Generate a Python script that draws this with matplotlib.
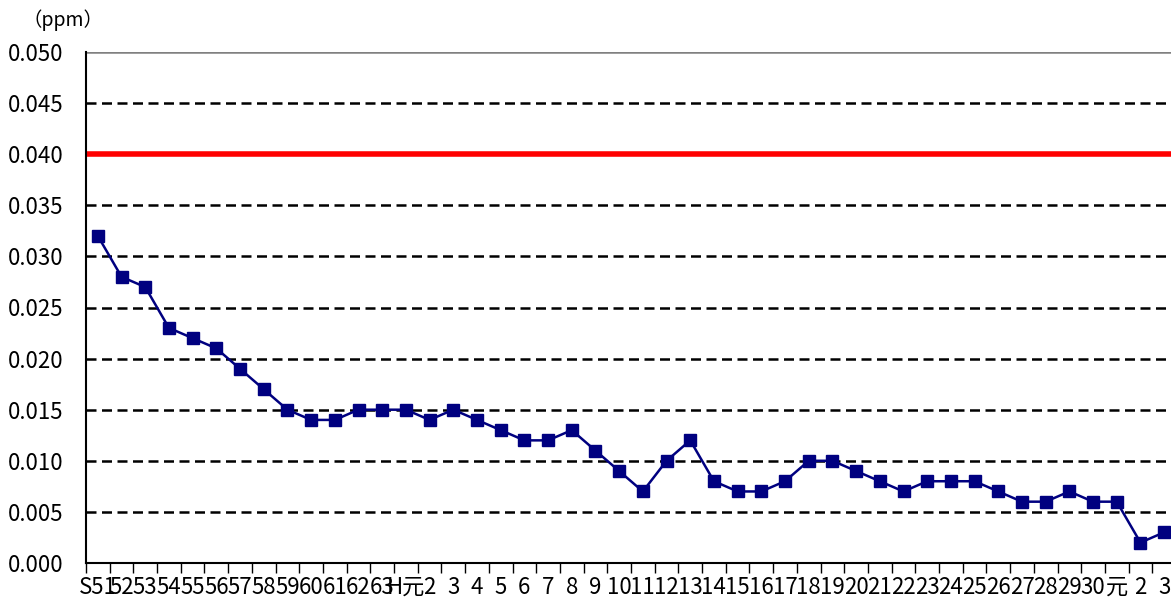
import matplotlib
matplotlib.use("Agg")
import matplotlib.pyplot as plt
import numpy as np

plt.rcParams['font.family'] = ['Noto Sans CJK JP', 'DejaVu Sans']

labels = ["S51", "52", "53", "54", "55", "56", "57", "58", "59", "60", "61", "62", "63",
          "H元", "2", "3", "4", "5", "6", "7", "8", "9", "10", "11", "12", "13", "14", "15",
          "16", "17", "18", "19", "20", "21", "22", "23", "24", "25", "26", "27", "28", "29",
          "30", "元", "2", "3"]
values = [0.032, 0.028, 0.027, 0.023, 0.022, 0.021, 0.019, 0.017, 0.015, 0.014, 0.014,
          0.015, 0.015, 0.015, 0.014, 0.015, 0.014, 0.013, 0.012, 0.012, 0.013, 0.011,
          0.009, 0.007, 0.010, 0.012, 0.008, 0.007, 0.007, 0.008, 0.010, 0.010, 0.009,
          0.008, 0.007, 0.008, 0.008, 0.008, 0.007, 0.006, 0.006, 0.007, 0.006, 0.006,
          0.002, 0.003]
standard = 0.040
yticks = [0.000, 0.005, 0.010, 0.015, 0.020, 0.025, 0.030, 0.035, 0.040, 0.045, 0.050]

fig = plt.figure(figsize=(11.71, 6.01), dpi=100)
ax = fig.add_axes([86/1171, 1-563/601, 1090/1171, (563-52)/601])

n = len(values)
x = np.arange(n)
ax.set_xlim(-0.5, n-0.5)
ax.set_ylim(0, 0.050)

for y in yticks[1:-1]:
    ax.axhline(y, color='black', lw=1.8, ls=(0, (4, 2.2)), zorder=1)
ax.axhline(0.050, color='#808080', lw=1.8, zorder=1)

ax.axhline(standard, color='#ff0000', lw=4, zorder=2)

ax.plot(x, values, color='#000080', lw=1.8, marker='s', markersize=8.5,
        markerfacecolor='#000080', markeredgecolor='#000080', zorder=3, clip_on=False)

ax.set_yticks(yticks)
ax.set_yticklabels([f"{v:.3f}" for v in yticks], fontsize=16)
ax.set_xticks(x)
ax.set_xticklabels(labels, fontsize=16)
ax.set_xticks(np.arange(-0.5, n, 1), minor=True)
ax.tick_params(axis='x', which='major', length=0, pad=9)
ax.tick_params(axis='x', which='minor', length=7, width=1, direction='out', color='black')
ax.tick_params(axis='y', length=0, pad=16)

for s in ['top', 'right']:
    ax.spines[s].set_visible(False)
ax.spines['left'].set_linewidth(1.5)
ax.spines['bottom'].set_linewidth(1.5)

fig.text(22/1171, 1-20/601, "（ppm）", fontsize=14, va='center', ha='left')

fig.savefig("out.png", dpi=100)
